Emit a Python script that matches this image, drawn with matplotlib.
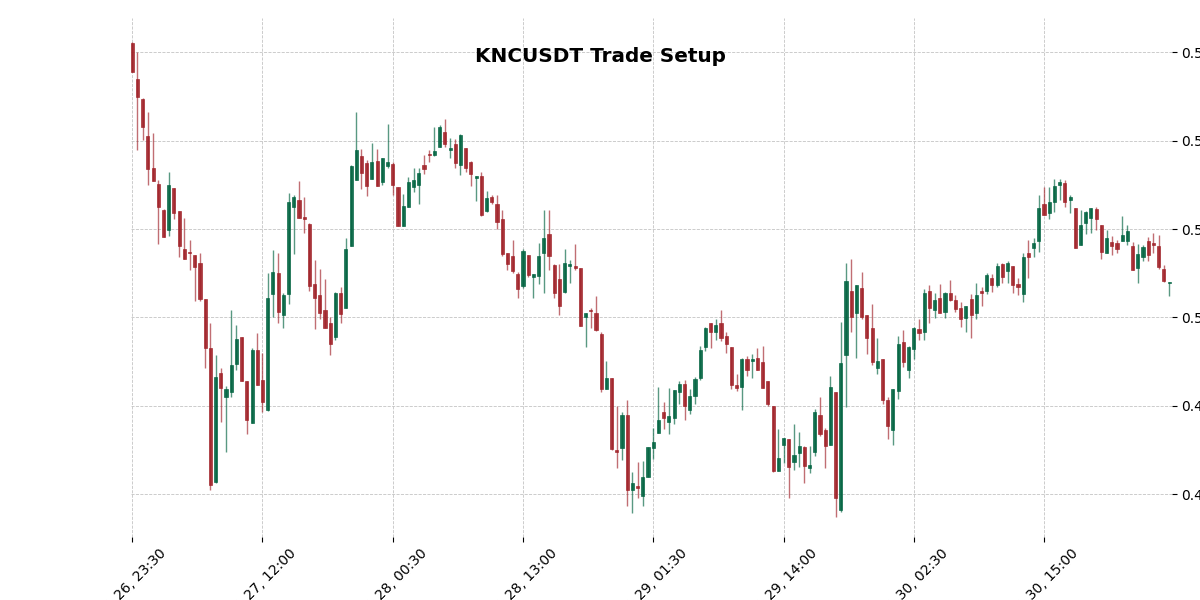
import numpy as np
import pandas as pd
import matplotlib
matplotlib.use("Agg")
import matplotlib.pyplot as plt

# ---- data ----
opens = [
0.5622,0.5541,0.5495,0.5410,0.5339,0.5302,0.5244,0.5198,0.5293,0.5241,
0.5155,0.5149,0.5141,0.5123,0.5041,0.4930,0.4627,0.4874,0.4820,0.4831,
0.4895,0.4955,0.4857,0.4761,0.4926,0.4859,0.4791,0.5054,0.5100,0.5005,
0.5054,0.5249,0.5266,0.5228,0.5211,0.5075,0.5050,0.5018,0.4987,0.4956,
0.5056,0.5021,0.5161,0.5311,0.5366,0.5350,0.5313,0.5354,0.5306,0.5343,
0.5348,0.5296,0.5208,0.5249,0.5295,0.5301,0.5345,0.5371,0.5367,0.5385,
0.5420,0.5379,0.5392,0.5345,0.5384,0.5351,0.5315,0.5320,0.5242,0.5273,
0.5257,0.5223,0.5145,0.5139,0.5099,0.5072,0.5141,0.5091,0.5093,0.5147,
0.5189,0.5119,0.5086,0.5058,0.5117,0.5117,0.5111,0.5002,0.5018,0.5010,
0.4962,0.4839,0.4862,0.4700,0.4704,0.4780,0.4610,0.4619,0.4596,0.4639,
0.4705,0.4738,0.4787,0.4763,0.4772,0.4831,0.4849,0.4791,0.4823,0.4862,
0.4934,0.4987,0.4968,0.4987,0.4958,0.4934,0.4848,0.4843,0.4907,0.4902,
0.4909,0.4900,0.4857,0.4799,0.4653,0.4711,0.4725,0.4672,0.4693,0.4706,
0.4659,0.4695,0.4780,0.4746,0.4712,0.4831,0.4564,0.4916,0.5061,0.5009,
0.5066,0.5005,0.4975,0.4886,0.4907,0.4814,0.4745,0.4834,0.4944,0.4880,
0.4929,0.4973,0.4968,0.5061,0.5016,0.5043,0.5013,0.5055,0.5039,0.5021,
0.4999,0.5042,0.5011,0.5060,0.5061,0.5089,0.5074,0.5120,0.5106,0.5116,
0.5075,0.5052,0.5145,0.5157,0.5172,0.5257,0.5236,0.5261,0.5301,0.5304,
0.5267,0.5248,0.5165,0.5213,0.5225,0.5245,0.5210,0.5147,0.5170,0.5168,
0.5174,0.5174,0.5161,0.5113,0.5138,0.5173,0.5168,0.5161,0.5109,0.5078]

highs = [
0.5624,0.5600,0.5497,0.5465,0.5417,0.5311,0.5246,0.5329,0.5293,0.5241,
0.5226,0.5175,0.5141,0.5145,0.5041,0.4987,0.4914,0.4886,0.4844,0.5018,
0.4982,0.4955,0.4857,0.4931,0.4964,0.4920,0.5100,0.5152,0.5145,0.5056,
0.5282,0.5277,0.5308,0.5272,0.5214,0.5130,0.5109,0.5086,0.5002,0.5058,
0.5068,0.5180,0.5346,0.5466,0.5382,0.5357,0.5395,0.5382,0.5362,0.5438,
0.5353,0.5296,0.5279,0.5318,0.5339,0.5339,0.5368,0.5379,0.5432,0.5436,
0.5450,0.5406,0.5404,0.5415,0.5384,0.5354,0.5320,0.5330,0.5286,0.5278,
0.5277,0.5243,0.5145,0.5175,0.5102,0.5154,0.5141,0.5099,0.5168,0.5244,
0.5244,0.5120,0.5122,0.5155,0.5129,0.5166,0.5111,0.5011,0.5021,0.5048,
0.4968,0.4901,0.4862,0.4800,0.4787,0.4814,0.4651,0.4672,0.4675,0.4707,
0.4750,0.4842,0.4809,0.4840,0.4835,0.4856,0.4858,0.4839,0.4865,0.4935,
0.4978,0.4987,0.4997,0.5016,0.4967,0.4934,0.4871,0.4909,0.4912,0.4918,
0.4930,0.4935,0.4857,0.4799,0.4748,0.4728,0.4725,0.4759,0.4740,0.4708,
0.4709,0.4793,0.4819,0.4750,0.4868,0.4831,0.4990,0.5123,0.5132,0.5073,
0.5102,0.5005,0.5030,0.4954,0.4907,0.4821,0.4837,0.4959,0.4971,0.4935,
0.4978,0.4996,0.5064,0.5074,0.5055,0.5075,0.5058,0.5084,0.5050,0.5036,
0.5025,0.5054,0.5077,0.5070,0.5100,0.5098,0.5123,0.5123,0.5127,0.5116,
0.5089,0.5145,0.5175,0.5180,0.5277,0.5295,0.5295,0.5313,0.5313,0.5312,
0.5277,0.5248,0.5243,0.5242,0.5248,0.5250,0.5210,0.5198,0.5184,0.5175,
0.5230,0.5209,0.5170,0.5166,0.5164,0.5182,0.5191,0.5186,0.5118,0.5081]

lows = [
0.5556,0.5380,0.5402,0.5300,0.5308,0.5166,0.5183,0.5185,0.5223,0.5138,
0.5133,0.5107,0.5037,0.5037,0.4886,0.4610,0.4625,0.4763,0.4696,0.4821,
0.4882,0.4856,0.4737,0.4761,0.4847,0.4785,0.4789,0.5001,0.4987,0.4975,
0.5030,0.5143,0.5226,0.5192,0.5059,0.4973,0.4996,0.4977,0.4914,0.4950,
0.4987,0.5021,0.5161,0.5311,0.5291,0.5275,0.5313,0.5297,0.5300,0.5339,
0.5278,0.5206,0.5208,0.5249,0.5283,0.5257,0.5325,0.5351,0.5366,0.5385,
0.5387,0.5360,0.5339,0.5323,0.5329,0.5298,0.5263,0.5230,0.5238,0.5258,
0.5200,0.5139,0.5107,0.5100,0.5043,0.5067,0.5092,0.5043,0.5075,0.5055,
0.5107,0.5043,0.5006,0.5055,0.5077,0.5107,0.4980,0.4932,0.4977,0.4969,
0.4831,0.4839,0.4699,0.4660,0.4678,0.4573,0.4557,0.4592,0.4573,0.4639,
0.4679,0.4738,0.4748,0.4737,0.4759,0.4803,0.4768,0.4781,0.4805,0.4859,
0.4925,0.4930,0.4950,0.4946,0.4920,0.4839,0.4834,0.4791,0.4867,0.4863,
0.4882,0.4840,0.4799,0.4650,0.4653,0.4670,0.4591,0.4655,0.4661,0.4625,
0.4647,0.4687,0.4731,0.4659,0.4712,0.4549,0.4560,0.4797,0.4967,0.4909,
0.4997,0.4918,0.4892,0.4871,0.4803,0.4725,0.4712,0.4816,0.4888,0.4862,
0.4905,0.4950,0.4950,0.4987,0.4999,0.5011,0.4998,0.5037,0.5013,0.4979,
0.4968,0.4954,0.4997,0.5027,0.5052,0.5058,0.5070,0.5077,0.5077,0.5055,
0.5050,0.5036,0.5089,0.5138,0.5149,0.5233,0.5224,0.5238,0.5267,0.5249,
0.5236,0.5158,0.5165,0.5189,0.5192,0.5198,0.5132,0.5147,0.5141,0.5145,
0.5174,0.5164,0.5108,0.5079,0.5127,0.5127,0.5147,0.5109,0.5081,0.5048]

closes = [
0.5556,0.5499,0.5431,0.5336,0.5308,0.5249,0.5183,0.5300,0.5236,0.5161,
0.5133,0.5145,0.5115,0.5041,0.4930,0.4621,0.4866,0.4840,0.4837,0.4893,
0.4952,0.4856,0.4768,0.4926,0.4847,0.4809,0.5043,0.5102,0.5013,0.5050,
0.5261,0.5273,0.5226,0.5224,0.5072,0.5045,0.5011,0.4977,0.4940,0.5055,
0.5007,0.5155,0.5343,0.5379,0.5326,0.5298,0.5352,0.5298,0.5360,0.5351,
0.5299,0.5206,0.5252,0.5307,0.5312,0.5326,0.5335,0.5368,0.5376,0.5432,
0.5392,0.5384,0.5349,0.5413,0.5338,0.5324,0.5320,0.5231,0.5270,0.5261,
0.5216,0.5144,0.5120,0.5106,0.5064,0.5150,0.5097,0.5099,0.5139,0.5180,
0.5140,0.5056,0.5027,0.5123,0.5120,0.5113,0.4981,0.5011,0.5014,0.4971,
0.4837,0.4864,0.4702,0.4695,0.4780,0.4610,0.4625,0.4614,0.4639,0.4707,
0.4719,0.4767,0.4772,0.4776,0.4835,0.4849,0.4799,0.4823,0.4860,0.4926,
0.4975,0.4968,0.4982,0.4954,0.4939,0.4847,0.4840,0.4905,0.4882,0.4907,
0.4882,0.4840,0.4804,0.4653,0.4681,0.4728,0.4661,0.4689,0.4710,0.4664,
0.4666,0.4787,0.4736,0.4710,0.4842,0.4592,0.4898,0.5082,0.5002,0.5073,
0.5002,0.4954,0.4899,0.4902,0.4813,0.4755,0.4837,0.4941,0.4899,0.4932,
0.4975,0.4965,0.5055,0.5022,0.5039,0.5011,0.5055,0.5040,0.5020,0.4997,
0.5025,0.5005,0.5050,0.5056,0.5096,0.5074,0.5117,0.5092,0.5123,0.5073,
0.5068,0.5136,0.5136,0.5168,0.5248,0.5233,0.5261,0.5298,0.5307,0.5261,
0.5273,0.5158,0.5209,0.5239,0.5248,0.5224,0.5149,0.5180,0.5161,0.5156,
0.5186,0.5195,0.5108,0.5143,0.5159,0.5142,0.5163,0.5115,0.5083,0.5080]

start_time = "2025-01-26 23:30"
title = "KNCUSDT Trade Setup"
tick_every = 25
y_ticks = [0.46, 0.48, 0.50, 0.52, 0.54, 0.56]

UP = "#006340"
DOWN = "#A02128"

# ---- figure ----
o = np.array(opens); h = np.array(highs); l = np.array(lows); c = np.array(closes)
n = len(o)
x = np.arange(n)
times = pd.date_range(start_time, periods=n, freq="30min")

fig = plt.figure(figsize=(12, 6), dpi=100)
ax = fig.add_axes([0.1089, 0.1058, 0.8675, 0.8642])

colors = np.where(c >= o, UP, DOWN)
ax.vlines(x, l, h, colors=colors, linewidth=1.0, alpha=0.65, zorder=2)
body_bottom = np.minimum(o, c)
body_h = np.maximum(np.abs(c - o), 0.00012)
ax.bar(x, body_h, bottom=body_bottom, width=0.6, color=colors,
       edgecolor=colors, linewidth=0.5, alpha=0.9, zorder=3)

ax.set_xlim(-0.3, n - 0.5)
ax.set_ylim(0.4504, 0.5678)

tick_pos = x[::tick_every]
ax.set_xticks(tick_pos)
ax.set_xticklabels([times[i].strftime("%b %d, %H:%M") for i in tick_pos],
                   rotation=45, ha="center", fontsize=10)
ax.set_yticks(y_ticks)
ax.set_yticklabels([f"{v:.2f}" for v in y_ticks], fontsize=10)
ax.yaxis.tick_right()

for s in ax.spines.values():
    s.set_visible(False)
ax.grid(True, which="major", color="#c4c4c4", linestyle="--", linewidth=0.6, zorder=0)
ax.set_axisbelow(True)

fig.text(0.5, 1 - 56 / 600, title, ha="center", va="center",
         fontsize=14.4, fontweight="bold")

fig.savefig("out.png", dpi=100)
